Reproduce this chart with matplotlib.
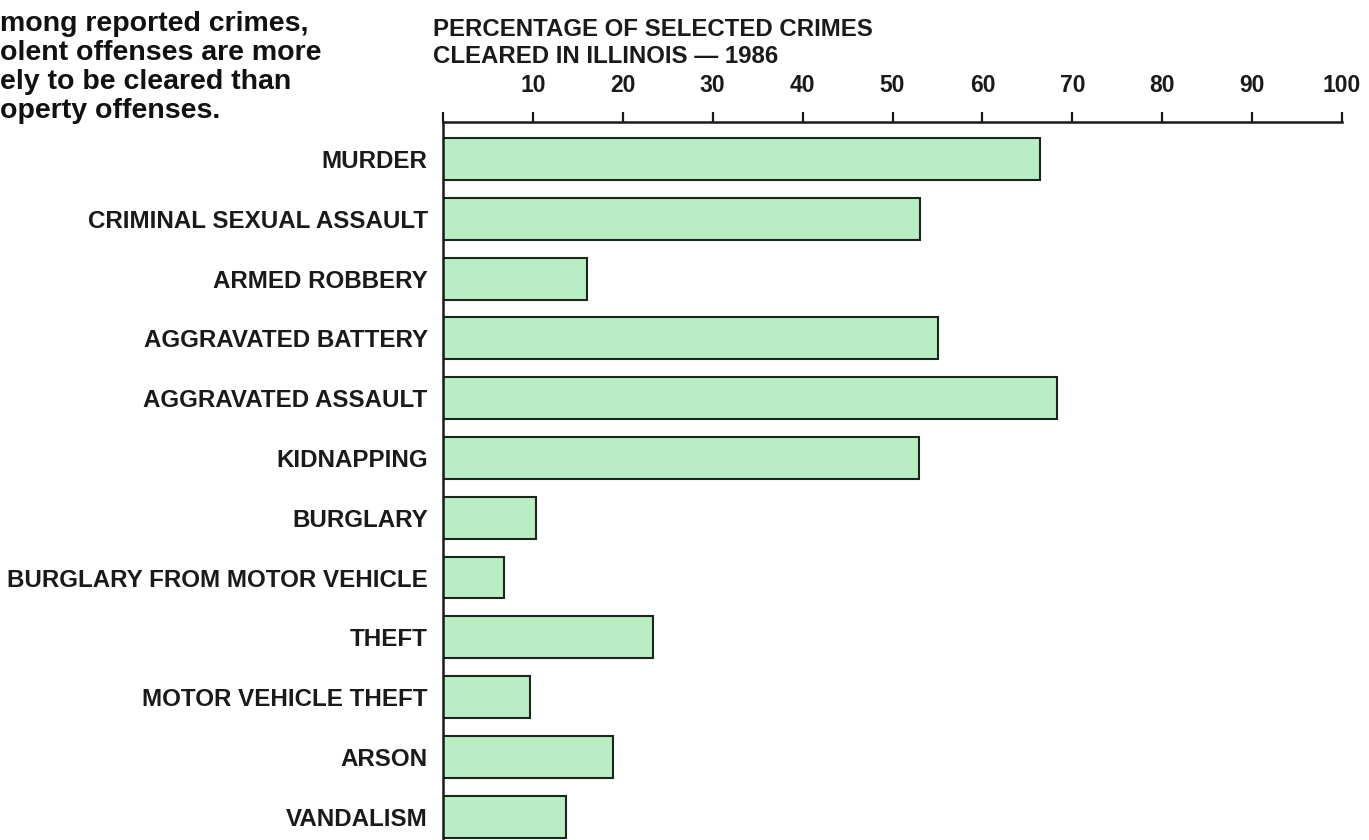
import matplotlib.pyplot as plt
import numpy as np

crimes = ["MURDER", "CRIMINAL SEXUAL ASSAULT", "ARMED ROBBERY", "AGGRAVATED BATTERY",
          "AGGRAVATED ASSAULT", "KIDNAPPING", "BURGLARY", "BURGLARY FROM MOTOR VEHICLE",
          "THEFT", "MOTOR VEHICLE THEFT", "ARSON", "VANDALISM"]
cleared = [66.4, 53.1, 16.0, 55.1, 68.3, 52.9, 10.3, 6.8, 23.4, 9.7, 18.9, 13.7]
ticks = [0, 10, 20, 30, 40, 50, 60, 70, 80, 90, 100]
tick_labels = ["", "10", "20", "30", "40", "50", "60", "70", "80", "90", "100"]

plt.rcParams['font.family'] = ['Liberation Sans', 'DejaVu Sans']

fig = plt.figure(figsize=(13.69, 8.4), dpi=100)
ax = fig.add_axes([0.3236, 0.0, 0.6567, 0.8548])

y = np.arange(len(crimes))
ax.barh(y, cleared, height=0.7, color='#b9edc4', edgecolor='#1c261c', linewidth=1.5)

ax.set_xlim(0, 100)
ax.set_ylim(11.39, -0.62)

ax.xaxis.tick_top()
ax.set_xticks(ticks)
ax.set_xticklabels(tick_labels, fontsize=16.5, fontweight='bold', color='#1a1a1a')
ax.tick_params(axis='x', direction='out', length=7, width=1.6, pad=11, color='#1a1a1a')

ax.set_yticks(y)
ax.set_yticklabels(crimes, fontsize=17.4, fontweight='bold', color='#1a1a1a')
ax.tick_params(axis='y', length=0, pad=11)

for side in ['right', 'bottom']:
    ax.spines[side].set_visible(False)
for side in ['top', 'left']:
    ax.spines[side].set_linewidth(1.8)
    ax.spines[side].set_color('#1a1a1a')

fig.text(433 / 1369, 1 - 18 / 840, "PERCENTAGE OF SELECTED CRIMES\nCLEARED IN ILLINOIS \u2014 1986",
         fontsize=17.3, fontweight='bold', color='#1a1a1a', ha='left', va='top', linespacing=1.2)

fig.text(0.0, 1 - 11 / 840, "mong reported crimes,\nolent offenses are more\nely to be cleared than\noperty offenses.",
         fontsize=20.5, fontweight='heavy', color='#111111', ha='left', va='top', linespacing=1.15)

fig.savefig("out.png", dpi=100)
